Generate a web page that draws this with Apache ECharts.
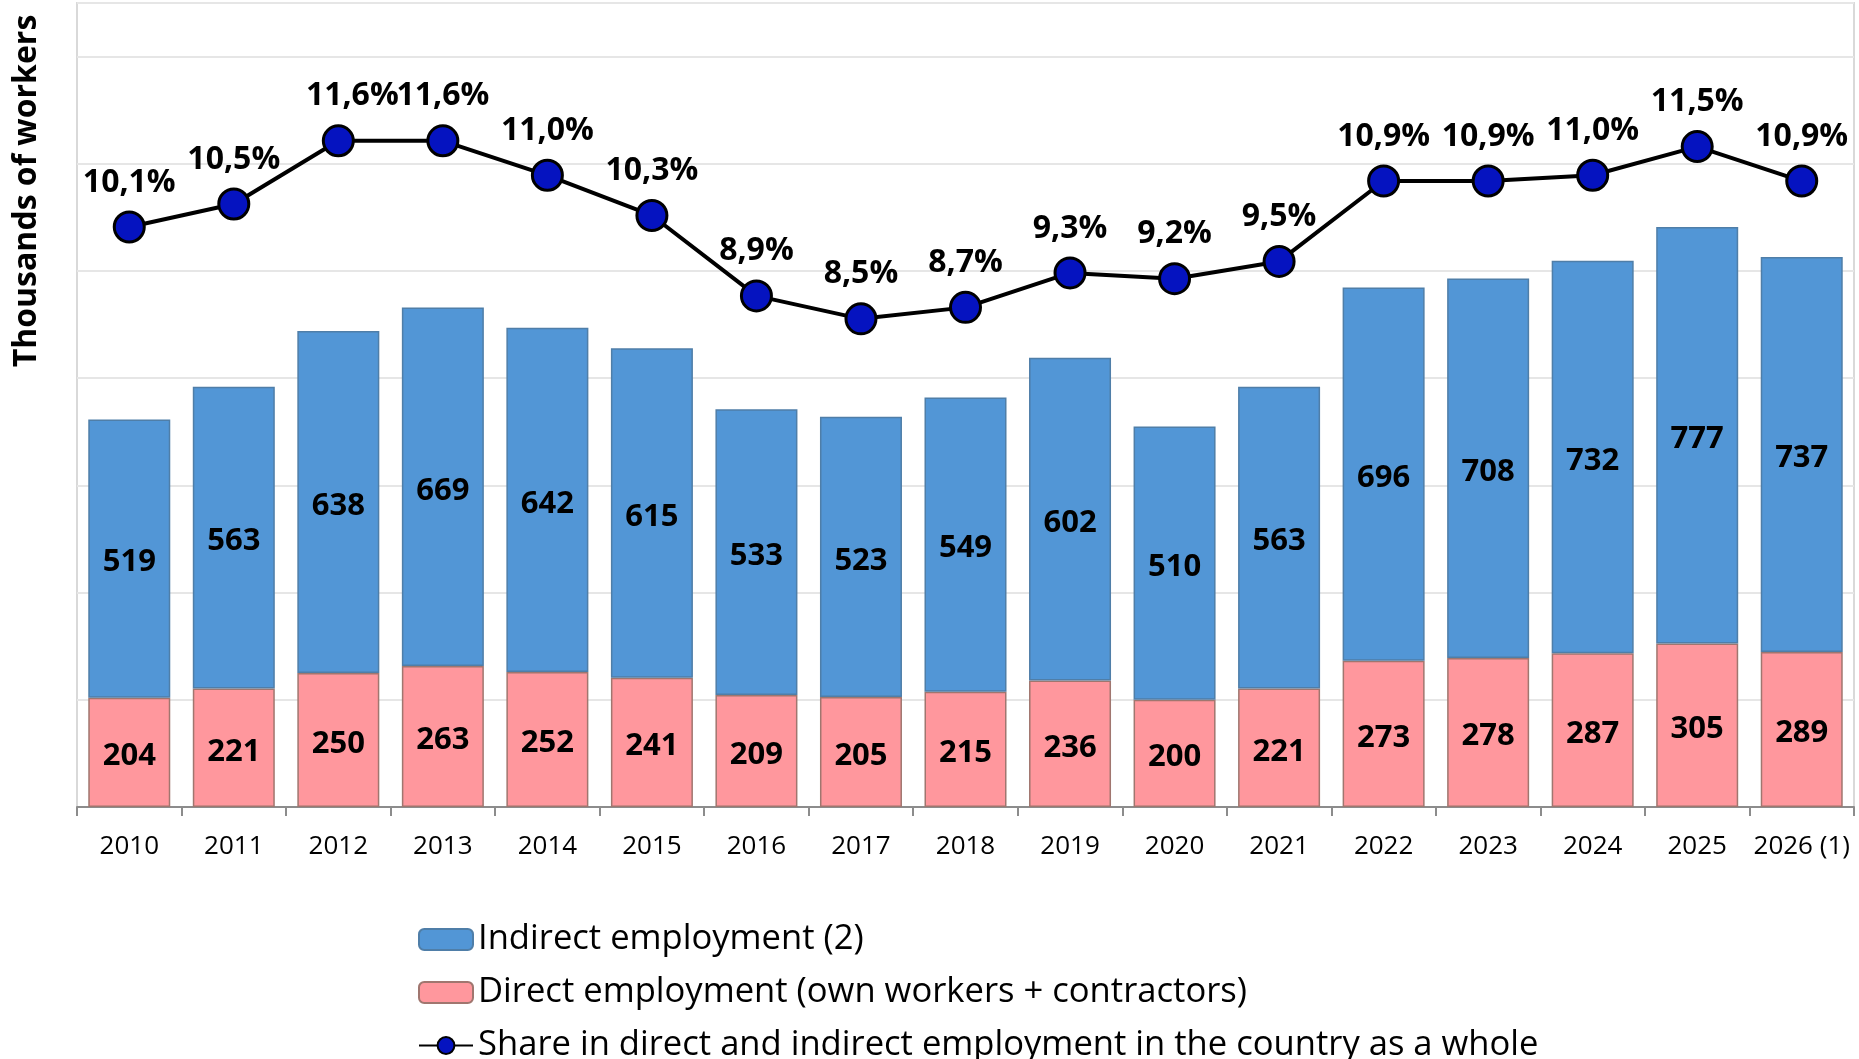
<!DOCTYPE html>
<html>
<head>
<meta charset="utf-8">
<script src="https://cdn.jsdelivr.net/npm/echarts@6/dist/echarts.min.js"></script>
<style>
html,body{margin:0;padding:0;background:#fff;}
#chart{width:1859px;height:1059px;}
</style>
</head>
<body>
<div id="chart"></div>
<script>
const categories = ['2010','2011','2012','2013','2014','2015','2016','2017','2018','2019','2020','2021','2022','2023','2024','2025','2026 (1)'];
const directEmployment = [204,221,250,263,252,241,209,205,215,236,200,221,273,278,287,305,289];
const indirectEmployment = [519,563,638,669,642,615,533,523,549,602,510,563,696,708,732,777,737];
const sharePercent = [10.1,10.5,11.6,11.6,11.0,10.3,8.9,8.5,8.7,9.3,9.2,9.5,10.9,10.9,11.0,11.5,10.9];

const NAME_IND = 'Indirect employment (2)';
const NAME_DIR = 'Direct employment (own workers + contractors)';
const NAME_SHARE = 'Share in direct and indirect employment in the country as a whole';
const FONT = '"Open Sans", "Noto Sans", sans-serif';

const chart = echarts.init(document.getElementById('chart'), null, {renderer:'canvas'});

const shareData = sharePercent.map((v, i) => {
  if (i === 2) return {value: v, label: {offset: [14, 0]}};
  return v;
});

const barLabel = {show: true, position: 'inside', fontSize: 31, fontWeight: 'bold', color: '#000', fontFamily: FONT, offset: [0, 4]};

const option = {
  animation: false,
  textStyle: {fontFamily: FONT},
  grid: {left: 77, top: 3, right: 5, bottom: 252, show: true, borderColor: '#d9d9d9', borderWidth: 2, backgroundColor: 'transparent'},
  legend: {
    orient: 'vertical',
    left: 418,
    top: 922,
    height: 300,
    padding: 0,
    itemWidth: 54,
    itemHeight: 21,
    itemGap: 18,
    data: [NAME_IND, NAME_DIR, NAME_SHARE],
    textStyle: {fontSize: 34.6, color: '#000', fontFamily: FONT, lineHeight: 30, padding: [0,0,0,0]}
  },
  graphic: [{
    type: 'text',
    x: 27, y: 191,
    rotation: Math.PI / 2,
    style: {text: 'Thousands of workers', font: 'bold 32px "Open Sans", sans-serif', fill: '#000', align: 'center', verticalAlign: 'middle'}
  }],
  xAxis: {
    type: 'category',
    data: categories,
    boundaryGap: true,
    axisLine: {lineStyle: {color: '#8c8c8c', width: 2}},
    axisTick: {show: true, alignWithLabel: false, length: 9, lineStyle: {color: '#8c8c8c', width: 2}},
    axisLabel: {fontSize: 26, color: '#000', margin: 27, fontFamily: FONT, interval: 0}
  },
  yAxis: [{
    type: 'value', min: 0, max: 1500, interval: 200,
    axisLabel: {show: false}, axisLine: {show: false}, axisTick: {show: false},
    splitLine: {lineStyle: {color: '#e6e6e6', width: 2}}
  }, {
    type: 'value', min: 0, max: 14,
    axisLabel: {show: false}, axisLine: {show: false}, axisTick: {show: false},
    splitLine: {show: false}
  }],
  series: [{
    name: NAME_DIR, type: 'bar', stack: 'emp', data: directEmployment, barWidth: 82,
    itemStyle: {color: '#ff979d', borderColor: '#a0766f', borderWidth: 1.5},
    label: barLabel
  }, {
    name: NAME_IND, type: 'bar', stack: 'emp', data: indirectEmployment, barWidth: 82,
    itemStyle: {color: '#5296d6', borderColor: '#4f7ea8', borderWidth: 1.5},
    label: barLabel
  }, {
    name: NAME_SHARE, type: 'line', yAxisIndex: 1, data: shareData, z: 10,
    symbol: 'circle', symbolSize: 30,
    lineStyle: {color: '#000', width: 4},
    itemStyle: {color: '#0513c0', borderColor: '#000', borderWidth: 3},
    label: {show: true, position: 'top', distance: 12, fontSize: 32, fontWeight: 'bold', color: '#000', fontFamily: FONT,
      formatter: p => sharePercent[p.dataIndex].toFixed(1).replace('.', ',') + '%'}
  }]
};
chart.setOption(option);
</script>
</body>
</html>
